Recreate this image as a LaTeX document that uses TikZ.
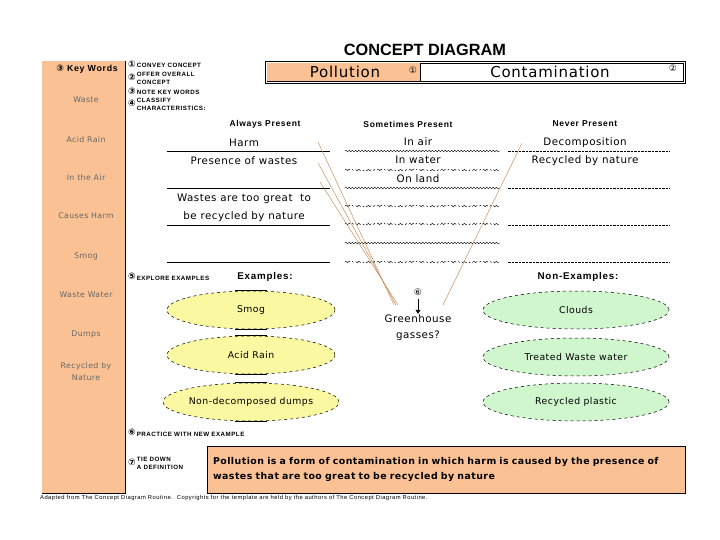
\documentclass[tikz,border=0pt]{standalone}
\usepackage{fontspec}
\setmainfont{Liberation Sans}
\newfontfamily\comic[LetterSpace=5]{DejaVu Sans}
\newfontfamily\wide[LetterSpace=8]{Liberation Sans}
\newfontfamily\symb{DejaVu Sans}
\usepackage{xcolor}
\usetikzlibrary{shapes.geometric}
\usetikzlibrary{decorations.pathmorphing}
\usetikzlibrary{arrows.meta}
\definecolor{peach}{RGB}{250,194,148}
\definecolor{paleyellow}{RGB}{250,248,160}
\definecolor{palegreen}{RGB}{208,246,206}
\definecolor{rust}{RGB}{196,136,86}
\newcommand\stepno[1]{{\symb\fontsize{9}{9}\selectfont #1}}
\newcommand\steptext[2]{\stepno{#1}\,\begin{tabular}{@{}l@{}}#2\end{tabular}}
\tikzset{
  steplabel/.style={anchor=west, inner sep=0pt, font=\wide\bfseries\fontsize{6.2}{8.4}\selectfont},
  keyword/.style={align=center, text=black!60, font=\comic\fontsize{7.8}{12}\selectfont},
  header/.style={font=\wide\bfseries\fontsize{8.5}{9}\selectfont},
  entry/.style={inner sep=1pt, font=\comic\fontsize{10.3}{11}\selectfont},
  wave/.style={decorate, decoration={snake, amplitude=0.8pt, segment length=3.2pt}, line width=0.4pt},
  wavedash/.style={wave, dash pattern=on 7pt off 3pt on 2pt off 3pt},
  neverline/.style={line width=0.6pt, dash pattern=on 2.5pt off 1pt},
  example/.style={ellipse, draw, dashed, line width=0.5pt, fill=paleyellow, inner sep=0pt, minimum width=168pt, minimum height=38pt, font=\comic\fontsize{9.3}{10}\selectfont},
  nonexample/.style={example, fill=palegreen, minimum width=186pt},
  link/.style={rust, line width=0.45pt}
}

\begin{document}
\begin{tikzpicture}[x=1pt, y=-1pt]
\useasboundingbox (0,0) rectangle (720,540);
\fill[white] (0,0) rectangle (720,540);
% title and concept frame
\node[font=\bfseries\fontsize{16.3}{17}\selectfont] (title) at (425,50) {CONCEPT DIAGRAM};
\draw[line width=0.5pt] (265,61) rectangle (685,83);
\draw[line width=0.5pt] (267,63) rectangle (683,81);
\fill[peach] (267.3,63.3) rectangle (420,80.7);
\draw[line width=0.7pt] (420,63) -- (420,81);
\node[font=\comic\fontsize{15}{15}\selectfont] (concept) at (345,72) {Pollution};
\node (one) at (413,70) {\stepno{①}};
\node[font=\comic\fontsize{15}{15}\selectfont] (overall) at (550,72) {Contamination};
\node (two) at (673,68) {\stepno{②}};
% key words column
\fill[peach] (42,61) rectangle (125,493);
\draw[line width=0.7pt] (125,61) -- (125,493) -- (42,493);
\node[font=\wide\bfseries\fontsize{8.8}{9}\selectfont] (kw) at (87,69) {\stepno{③} Key Words};
\node[keyword] (kw1) at (86,100) {Waste};
\node[keyword] (kw2) at (86,140) {Acid Rain};
\node[keyword] (kw3) at (86,178) {In the Air};
\node[keyword] (kw4) at (86,216) {Causes Harm};
\node[keyword] (kw5) at (86,256) {Smog};
\node[keyword] (kw6) at (86,295) {Waste Water};
\node[keyword] (kw7) at (86,334) {Dumps};
\node[keyword] (kw8) at (86,372) {Recycled by\\Nature};
% steps
\node[steplabel] (s1) at (128,65.5) {\steptext{①}{CONVEY CONCEPT}};
\node[steplabel] (s2) at (128,79) {\steptext{②}{OFFER OVERALL\\CONCEPT}};
\node[steplabel] (s3) at (128,92.5) {\steptext{③}{NOTE KEY WORDS}};
\node[steplabel] (s4) at (128,105) {\steptext{④}{CLASSIFY\\CHARACTERISTICS:}};
\node[steplabel] (s5) at (128,278) {\steptext{⑤}{EXPLORE EXAMPLES}};
\node[steplabel] (s6) at (128,434) {\steptext{⑥}{PRACTICE WITH NEW EXAMPLE}};
\node[steplabel] (s7) at (128,464) {\steptext{⑦}{TIE DOWN\\A DEFINITION}};
% characteristics
\node[header] (always) at (265,124) {Always Present};
\node[header] (sometimes) at (408,124) {Sometimes Present};
\node[header] (never) at (585,124) {Never Present};
\foreach \y in {151,188,225,262}
  \draw[line width=0.7pt] (167,\y) -- (330,\y);
\foreach \y in {151,188,243}
  \draw[wave] (345,\y) -- (500,\y);
\foreach \y in {170,206,224,262}
  \draw[wavedash] (345,\y) -- (500,\y);
\foreach \y in {151,188,225,262}
  \draw[neverline] (508,\y) -- (670,\y);
\node[entry] (harm) at (244,143) {Harm};
\node[entry] (wastes) at (244,161) {Presence of wastes};
\node[entry] (great) at (244,199) {Wastes are too great \ to};
\node[entry] (recycled) at (244,217) {be recycled by nature};
\node[entry] (air) at (418,142) {In air};
\node[entry] (water) at (418,160) {In water};
\node[entry] (land) at (418,179) {On land};
\node[entry] (decomp) at (585,143) {Decomposition};
\node[entry] (bynature) at (585,161) {Recycled by nature};
% examples
\node[font=\wide\bfseries\fontsize{9.8}{10}\selectfont] (examples) at (265,277) {Examples:};
\node[font=\wide\bfseries\fontsize{9.8}{10}\selectfont] (nonexamples) at (578,277) {Non-Examples:};
\node[example] (ex1) at (251,310) {Smog};
\node[example] (ex2) at (251,355) {Acid Rain};
\node[example] (ex3) at (251,402) {Non-decomposed dumps};
\node[nonexample] (nx1) at (576,310) {Clouds};
\node[nonexample] (nx2) at (576,357) {Treated Waste water};
\node[nonexample] (nx3) at (576,402) {Recycled plastic};
\foreach \e in {ex1,ex2,ex3}
  \draw[line width=0.6pt] ([xshift=-16pt]\e.north) -- ([xshift=16pt]\e.north)
    ([xshift=-16pt]\e.south) -- ([xshift=16pt]\e.south);
% new example
\node (six) at (418,292) {\stepno{⑥}};
\node[entry, align=center, font=\comic\fontsize{10.3}{16}\selectfont] (greenhouse) at (418,328) {Greenhouse\\gasses?};
\draw[-{Triangle[length=4pt,width=5pt]}, line width=0.6pt] (six) -- (greenhouse.north);
\coordinate (harmend) at (318,142);
\coordinate (wastesend) at (318,163);
\coordinate (greatend) at (320,182);
\coordinate (decompend) at (522,143);
\coordinate (ghleft) at (396,305);
\coordinate (ghright) at (443,305);
\draw[link] (harmend) -- ([xshift=-2pt]ghleft);
\draw[link] (wastesend) -- (ghleft);
\draw[link] (greatend) -- ([xshift=2pt]ghleft);
\draw[link] (decompend) -- (ghright);
% definition
\node[draw, fill=peach, line width=0.6pt, minimum width=478pt, minimum height=47pt, inner sep=6pt, align=left, text width=466pt, font=\comic\bfseries\fontsize{9.4}{15.5}\selectfont] (definition) at (446,469.5) {Pollution is a form of contamination in which harm is caused by the presence of\\wastes that are too great to be recycled by nature};
\node[anchor=west, inner sep=0pt, font=\wide\fontsize{5.8}{6}\selectfont] (credit) at (40,498) {Adapted from The Concept Diagram Routine.\ \ Copyrights for the template are held by the authors of The Concept Diagram Routine.};
\end{tikzpicture}
\end{document}
